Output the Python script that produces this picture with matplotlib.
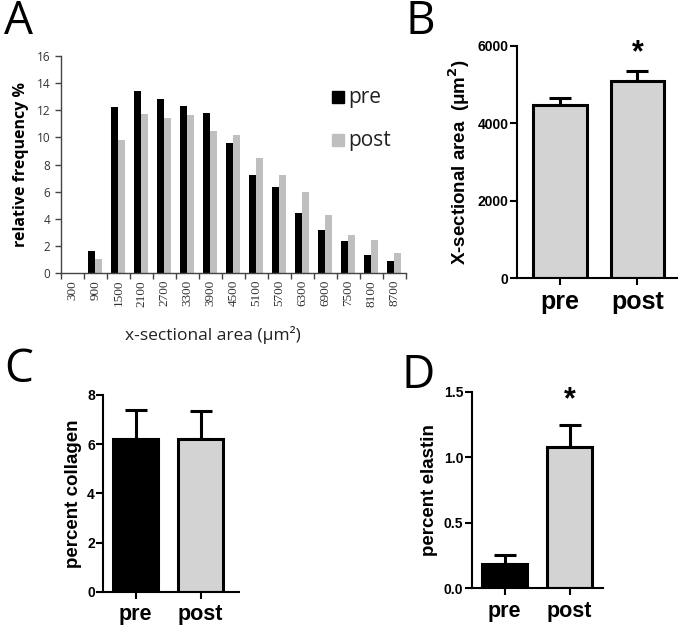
import matplotlib
matplotlib.use('Agg')
import matplotlib.pyplot as plt
import numpy as np

# panel A: size distribution
bins = ['300', '900', '1500', '2100', '2700', '3300', '3900', '4500',
        '5100', '5700', '6300', '6900', '7500', '8100', '8700']
freq_pre = [0, 1.65, 12.25, 13.4, 12.8, 12.3, 11.8, 9.6, 7.25, 6.35, 4.4, 3.2, 2.35, 1.3, 0.85]
freq_post = [0, 1.05, 9.8, 11.7, 11.4, 11.65, 10.5, 10.2, 8.45, 7.25, 5.95, 4.25, 2.8, 2.4, 1.45]

# panels B, C, D: group means with upper SEM
groups = ['pre', 'post']
area_mean = [4470, 5090]
area_err = [170, 255]
collagen_mean = [6.22, 6.2]
collagen_err = [1.17, 1.15]
elastin_mean = [0.185, 1.075]
elastin_err = [0.067, 0.172]

W, H = 682, 626
dpi = 100
fig = plt.figure(figsize=(W / dpi, H / dpi), dpi=dpi)


def px_axes(left, top, right, bottom):
    return fig.add_axes([left / W, 1 - bottom / H, (right - left) / W, (bottom - top) / H])


calibri = 'Open Sans'
arial = 'Liberation Sans'

# ---- A ----
ax = px_axes(61, 56, 406, 273)
x = np.arange(len(bins))
ax.bar(x - 0.165, freq_pre, width=0.31, color='black')
ax.bar(x + 0.145, freq_post, width=0.31, color='#bfbfbf')
ax.set_xlim(-0.5, len(bins) - 0.5)
ax.set_ylim(0, 16)
ax.set_yticks(range(0, 17, 2))
ax.set_xticks(np.arange(len(bins) + 1) - 0.5)
ax.set_xticklabels([])
ax.set_xticks(x, minor=True)
ax.set_xticklabels(bins, minor=True, rotation=90, family='Liberation Serif', fontsize=9.5, color='#333333')
ax.tick_params(axis='x', which='minor', length=0, pad=5)
ax.tick_params(axis='x', which='major', length=4, width=1, color='#444444')
ax.tick_params(axis='y', length=4, width=1, color='#444444', labelsize=8.5, labelcolor='#333333')
for lab in ax.get_yticklabels():
    lab.set_family(calibri)
for s in ['top', 'right']:
    ax.spines[s].set_visible(False)
for s in ['left', 'bottom']:
    ax.spines[s].set_color('#444444')
    ax.spines[s].set_linewidth(1)
ax.set_ylabel('relative frequency %', family=calibri, fontsize=11.5, fontweight='bold', labelpad=6)
fig.text(213 / W, 1 - 335 / H, 'x-sectional area (\u03bcm\u00b2)', family=calibri, fontsize=12.5,
         ha='center', va='center', color='#222222')
# legend
ax.plot([11.55], [12.95], marker='s', ms=8.5, color='black', clip_on=False)
ax.text(12.0, 12.95, 'pre', family=calibri, fontsize=15, va='center', color='#222222')
ax.plot([11.55], [9.8], marker='s', ms=8.5, color='#bfbfbf', clip_on=False)
ax.text(12.0, 9.8, 'post', family=calibri, fontsize=15, va='center', color='#222222')


def style_bar_axes(ax, ylabel, ylabsize, xlabsize):
    for s in ['top', 'right']:
        ax.spines[s].set_visible(False)
    for s in ['left', 'bottom']:
        ax.spines[s].set_linewidth(1.5)
    ax.tick_params(axis='y', length=5, width=1.5, labelsize=10, pad=1)
    ax.tick_params(axis='x', length=5, width=1.5, labelsize=xlabsize, pad=4)
    for lab in ax.get_yticklabels() + ax.get_xticklabels():
        lab.set_family(arial)
        lab.set_fontweight('bold')
    ax.set_ylabel(ylabel, family=arial, fontsize=ylabsize, fontweight='bold')


def draw_bars(ax, means, errs, colors):
    ax.bar([0, 1], means, width=0.69, color=colors, edgecolor='black', linewidth=2.2, zorder=2)
    ax.errorbar([0, 1], means, yerr=[[0, 0], errs], fmt='none', ecolor='black',
                elinewidth=2.2, capsize=8, capthick=2.2, zorder=1)
    ax.set_xticks([0, 1])
    ax.set_xticklabels(groups)


# ---- B ----
ax = px_axes(517, 45.7, 677, 278)
draw_bars(ax, area_mean, area_err, ['#d3d3d3', '#d3d3d3'])
ax.set_xlim(-0.55, 1.51)
ax.set_ylim(0, 6000)
ax.set_yticks([0, 2000, 4000, 6000])
style_bar_axes(ax, 'X-sectional area  (\u03bcm$^\\mathbf{2}$)', 13.5, 18)
ax.text(1, 5420, '*', ha='center', va='bottom', family=arial, fontsize=22, fontweight='bold')

# ---- C ----
ax = px_axes(103.3, 395, 239, 591.7)
draw_bars(ax, collagen_mean, collagen_err, ['black', '#d3d3d3'])
ax.set_xlim(-0.495, 1.59)
ax.set_ylim(0, 8)
ax.set_yticks([0, 2, 4, 6, 8])
style_bar_axes(ax, 'percent collagen', 13.5, 15.5)

# ---- D ----
ax = px_axes(471.7, 391.7, 602.7, 588.3)
draw_bars(ax, elastin_mean, elastin_err, ['black', '#d3d3d3'])
ax.set_xlim(-0.51, 1.51)
ax.set_ylim(0, 1.5)
ax.set_yticks([0, 0.5, 1.0, 1.5])
ax.set_yticklabels(['0.0', '0.5', '1.0', '1.5'])
style_bar_axes(ax, 'percent elastin', 13.5, 15.5)
ax.text(1, 1.32, '*', ha='center', va='bottom', family=arial, fontsize=22, fontweight='bold')

# panel letters
for letter, px, py in [('A', 4, 22), ('B', 406, 22), ('C', 4, 370), ('D', 402, 376)]:
    fig.text(px / W, 1 - py / H, letter, family=calibri, fontsize=33, va='center', ha='left')

fig.savefig('out.png', dpi=dpi)
